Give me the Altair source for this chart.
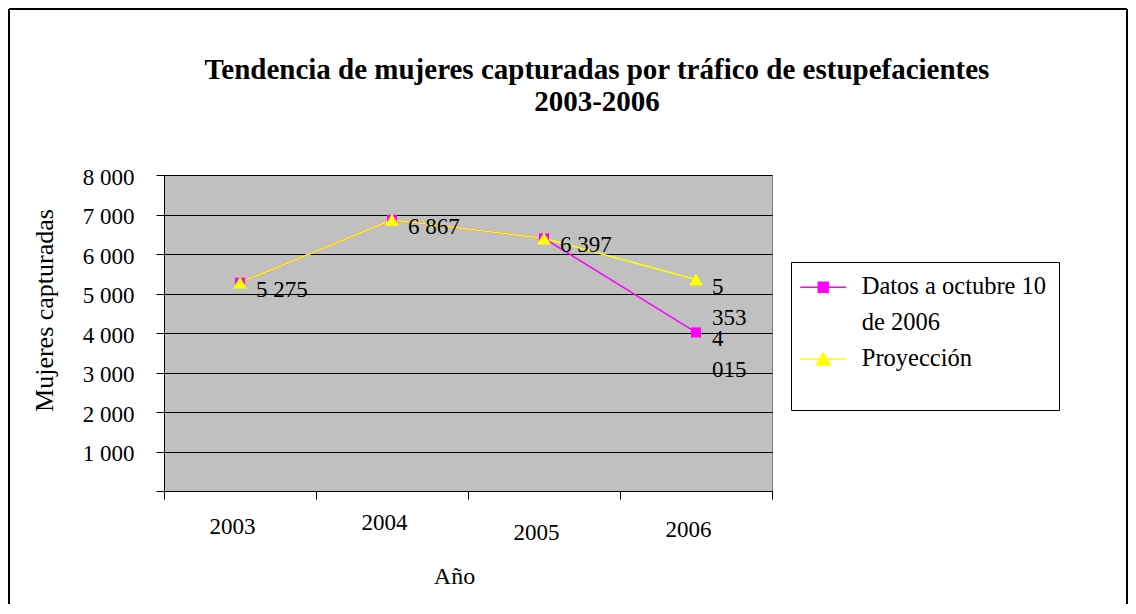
import altair as alt
import pandas as pd

years = [2003, 2004, 2005, 2006]
series_names = ["Datos a octubre 10 de 2006", "Proyección"]
datos = [5275, 6867, 6397, 4015]
proyeccion = [5275, 6867, 6397, 5353]
y_ticks = [0, 1000, 2000, 3000, 4000, 5000, 6000, 7000, 8000]
x_edges = [2002.5, 2003.5, 2004.5, 2005.5, 2006.5]
colors = ["#ff00ff", "#ffff00"]
# legend rows as shown in the reference (first series name wraps onto two lines)
legend_rows = ["Datos a octubre 10", "de 2006", "Proyección"]
legend_colors = [colors[0], "rgba(0,0,0,0)", colors[1]]

FONT = "Liberation Serif"


def fmt(v, wrap=False):
    s = f"{v:,}".replace(",", " ")
    return s.replace(" ", "\n") if wrap else s


datos_df = pd.DataFrame({"year": years, "value": datos, "series": series_names[0]})
proy_df = pd.DataFrame({"year": years, "value": proyeccion, "series": series_names[1]})

lab_rows = []
for yr, v in zip(years, datos):
    lab_rows.append({"year": yr, "value": v, "label": fmt(v, wrap=(yr == 2006))})
lab_rows.append({"year": 2006, "value": proyeccion[3], "label": fmt(proyeccion[3], wrap=True)})
labels_df = pd.DataFrame(lab_rows)

legend_df = pd.DataFrame({"series": legend_rows, "year": [years[0]] * 3, "value": [datos[0]] * 3})

x_enc = alt.X(
    "year:Q",
    scale=alt.Scale(domain=[x_edges[0], x_edges[-1]], nice=False, zero=False),
    axis=alt.Axis(
        values=x_edges,
        labelExpr="datum.value < 2006 ? '' + (datum.value + 0.5) : ''",
        labelOffset=68,
        labelFlush=False,
        labelOverlap=False,
        labelPadding=alt.ExprRef(
            "datum.value == 2002.5 ? 16 : datum.value == 2003.5 ? 12 : datum.value == 2004.5 ? 22 : 19"
        ),
        grid=False,
        tickSize=8,
        tickColor="black",
        domainColor="black",
        labelFont=FONT,
        labelFontSize=23,
        labelColor="black",
        title="Año",
        titleFont=FONT,
        titleFontSize=24,
        titleFontWeight="normal",
        titleColor="black",
        titleX=290,
        titleY=73,
    ),
)

y_enc = alt.Y(
    "value:Q",
    scale=alt.Scale(domain=[0, 8000], nice=False),
    axis=alt.Axis(
        values=y_ticks,
        labelExpr="datum.value == 0 ? '' : replace(format(datum.value, ','), ',', ' ')",
        labelOverlap=False,
        tickSize=8,
        tickColor="black",
        domainColor="black",
        gridColor="black",
        gridWidth=1,
        labelFont=FONT,
        labelFontSize=23,
        labelColor="black",
        labelPadding=22,
        labelOffset=2,
        title="Mujeres capturadas",
        titleFont=FONT,
        titleFontSize=26,
        titleFontWeight="normal",
        titleColor="black",
        titleX=-107,
        titleY=135,
    ),
)

line_datos = alt.Chart(datos_df).mark_line(strokeWidth=1.5, color=colors[0]).encode(x=x_enc, y=y_enc)
line_proy = alt.Chart(proy_df).mark_line(strokeWidth=1.5, color=colors[1]).encode(x=x_enc, y=y_enc)

squares = alt.Chart(datos_df).mark_square(size=100, color=colors[0], opacity=1).encode(x=x_enc, y=y_enc)

triangles = alt.Chart(proy_df).mark_point(
    shape="triangle-up", size=196, filled=True, color=colors[1], opacity=1
).encode(x=x_enc, y=y_enc)

texts = alt.Chart(labels_df).mark_text(
    align="left", baseline="top", dx=16, dy=-4, font=FONT, fontSize=23,
    color="black", lineBreak="\n", lineHeight=31
).encode(x=x_enc, y=y_enc, text="label:N")

shape_paths = [
    "M-2,0H2M-0.43,-0.43H0.43V0.43H-0.43Z",
    "M-2,0H2",
    "M-2,0H2M0,-0.55L0.6,0.5H-0.6Z",
]
leg = alt.Legend(
    title=None,
    orient="none",
    legendX=627,
    legendY=87,
    strokeColor="black",
    fillColor="white",
    padding=12.75,
    rowPadding=11,
    labelFont=FONT,
    labelFontSize=24.5,
    labelColor="black",
    labelLimit=400,
    symbolSize=529,
    symbolStrokeWidth=1.5,
    symbolOpacity=1,
    symbolOffset=7,
    labelOffset=26,
    labelExpr="datum.label == 'Proyección' ? [datum.label, ''] : datum.label",
)
legend_layer = alt.Chart(legend_df).mark_point(filled=True, opacity=0, strokeWidth=1.5).encode(
    x=x_enc,
    y=y_enc,
    fill=alt.Fill("series:N", scale=alt.Scale(domain=legend_rows, range=legend_colors), legend=leg),
    stroke=alt.Stroke("series:N", scale=alt.Scale(domain=legend_rows, range=legend_colors), legend=leg),
    shape=alt.Shape("series:N", scale=alt.Scale(domain=legend_rows, range=shape_paths), legend=leg),
)

frame_left = alt.Chart(datos_df).mark_rule(color="black", strokeWidth=2).encode(
    x=alt.value(-155), y=alt.value(-166), y2=alt.value(429)
)
frame_right = alt.Chart(datos_df).mark_rule(color="black", strokeWidth=2).encode(
    x=alt.value(963), y=alt.value(-166), y2=alt.value(429)
)
frame_top = alt.Chart(datos_df).mark_rule(color="black", strokeWidth=2).encode(
    x=alt.value(-155), x2=alt.value(963), y=alt.value(-166)
)

chart = alt.layer(
    line_datos, line_proy, squares, triangles, texts, legend_layer, frame_left, frame_right, frame_top
).properties(
    width=608,
    height=316,
    padding=0,
    background="white",
    title=alt.TitleParams(
        ["Tendencia de mujeres capturadas por tráfico de estupefacientes", "2003-2006"],
        font=FONT,
        fontSize=29,
        fontWeight="bold",
        color="black",
        anchor="middle",
        frame="group",
        dx=129,
        offset=-109,
        lineHeight=32,
    ),
).configure_view(
    fill="#c0c0c0", stroke="#808080", strokeWidth=1
)

chart.save("out.html", embed_options={"renderer": "svg", "actions": False})
